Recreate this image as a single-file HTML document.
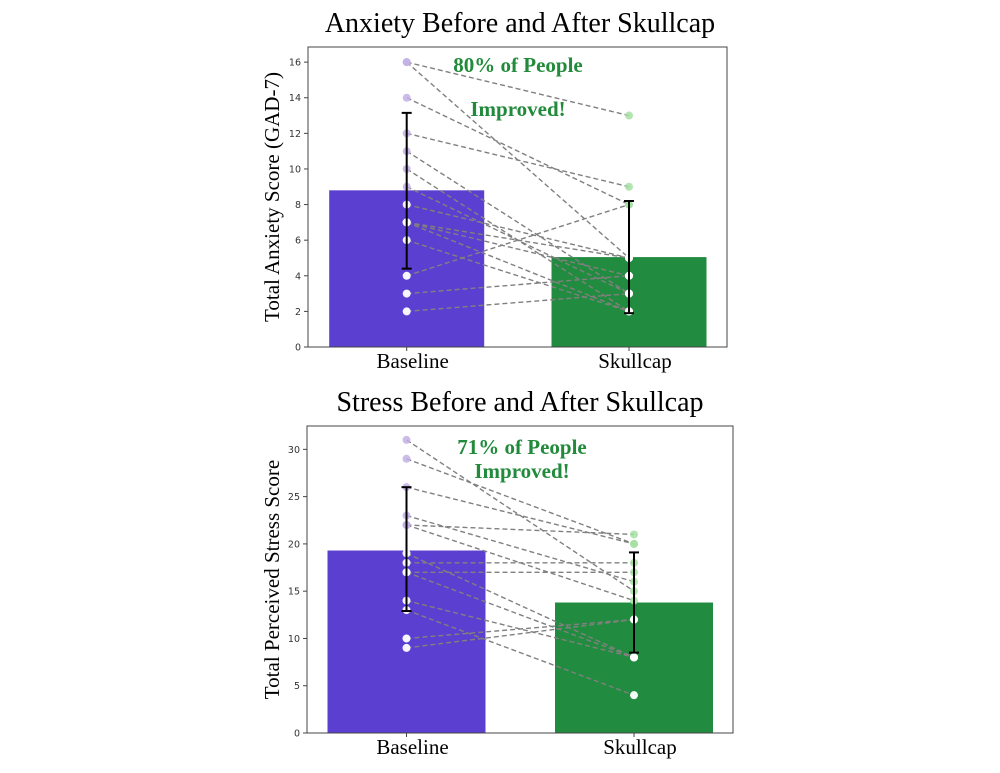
<!DOCTYPE html>
<html><head><meta charset="utf-8"><style>
html,body{margin:0;padding:0;background:#fff;width:1000px;height:773px;overflow:hidden}
svg{display:block}
</style></head><body>
<svg id="c" width="1000" height="773" xmlns="http://www.w3.org/2000/svg"></svg>
<script>
const categories = ["Baseline", "Skullcap"];
// Anxiety chart data
const anxietyMeans = [8.8, 5.05];
const anxietyErrLow = [4.4, 1.9];
const anxietyErrHigh = [13.15, 8.2];
const anxietyBefore = [16, 16, 14, 12, 11, 10, 9, 8, 7, 7, 7, 6, 4, 3, 2];
const anxietyAfter  = [13, 5, 8, 9, 3, 2, 3, 5, 5, 4, 2, 2, 8, 4, 3];
const anxietyTicks = [0, 2, 4, 6, 8, 10, 12, 14, 16];
// Stress chart data
const stressMeans = [19.3, 13.8];
const stressErrLow = [12.9, 8.5];
const stressErrHigh = [26, 19.1];
const stressBefore = [31, 29, 26, 23, 22, 22, 19, 18, 17, 17, 14, 13, 10, 9];
const stressAfter  = [15, 20, 20, 16, 21, 14, 8, 18, 17, 8, 8, 4, 12, 12];
const stressTicks = [0, 5, 10, 15, 20, 25, 30];

const NS = "http://www.w3.org/2000/svg";
const svg = document.getElementById("c");
function mk(tag, attrs, parent, text) {
  const e = document.createElementNS(NS, tag);
  for (const k in attrs) e.setAttribute(k, attrs[k]);
  if (text !== undefined) e.textContent = text;
  (parent || svg).appendChild(e);
  return e;
}

function chart(cfg) {
  const g = mk("g", {});
  
  
  const y = v => cfg.bottom - (v - 0) / cfg.ymax * (cfg.bottom - cfg.top);
  const xc = cfg.xcenters;
  const t = mk("text", {x: cfg.titleX, y: cfg.titleY, "text-anchor": "middle", "font-family": "'Liberation Serif', serif", "font-size": "28", fill: "#000"}, g, cfg.title);
  
  
  const colors = ["#5b3fd1", "#218c3f"];
  cfg.means.forEach((m, i) => {
    const b = mk("rect", {x: xc[i] - cfg.barW / 2, y: y(m), width: cfg.barW, height: cfg.bottom - y(m), fill: colors[i]}, g);
    
    
  });
  cfg.before.forEach((v, i) => {
    const l = mk("line", {x1: xc[0], y1: y(v), x2: xc[1], y2: y(cfg.after[i]), stroke: "#808080", "stroke-width": "1.4", "stroke-dasharray": "5,3"}, g);
    
    
  });
  const pt = (x, v, mean, outCol) => {
    const c = mk("circle", {cx: x, cy: y(v), r: 4, fill: v > mean ? outCol : "#ffffff", "fill-opacity": v > mean ? 0.85 : 0.95}, g);
    
    
  };
  cfg.before.forEach(v => pt(xc[0], v, cfg.means[0], "#c3b0e6"));
  cfg.after.forEach(v => pt(xc[1], v, cfg.means[1], "#a6e0a2"));
  cfg.means.forEach((m, i) => {
    const e = mk("g", {stroke: "#000", "stroke-width": "2"}, g);
    
    
    mk("line", {x1: xc[i], x2: xc[i], y1: y(cfg.lo[i]), y2: y(cfg.hi[i])}, e);
    mk("line", {x1: xc[i] - 5, x2: xc[i] + 5, y1: y(cfg.lo[i]), y2: y(cfg.lo[i])}, e);
    mk("line", {x1: xc[i] - 5, x2: xc[i] + 5, y1: y(cfg.hi[i]), y2: y(cfg.hi[i])}, e);
  });
  const f = mk("rect", {x: cfg.left, y: cfg.top, width: cfg.right - cfg.left, height: cfg.bottom - cfg.top, fill: "none", stroke: "#444", "stroke-width": "1"}, g);
  
  
  cfg.ticks.forEach(v => {
    mk("line", {x1: cfg.left - 4, x2: cfg.left, y1: y(v), y2: y(v), stroke: "#444"}, g);
    const tl = mk("text", {x: cfg.left - 7, y: y(v) + 3.5, "text-anchor": "end", "font-family": "'DejaVu Sans', sans-serif", "font-size": "9.5", fill: "#333"}, g, String(v));
    
    
  });
  categories.forEach((c, i) => {
    mk("line", {x1: xc[i], x2: xc[i], y1: cfg.bottom, y2: cfg.bottom + 4, stroke: "#444"}, g);
    const xl = mk("text", {x: xc[i] + 6, y: cfg.bottom + 21, "text-anchor": "middle", "font-family": "'Liberation Serif', serif", "font-size": "21", fill: "#000"}, g, c);
    
    
  });
  const cy = (cfg.top + cfg.bottom) / 2;
  const yl = mk("text", {x: 0, y: 0, transform: `translate(${cfg.ylabX},${cy}) rotate(-90)`, "text-anchor": "middle", "font-family": "'Liberation Serif', serif", "font-size": "21", fill: "#000"}, g, cfg.ylabel);
  
  
  cfg.note.forEach((s, i) => {
    const a = mk("text", {x: cfg.noteX, y: cfg.noteY[i], "text-anchor": "middle", "font-family": "'Liberation Serif', serif", "font-size": "21", "font-weight": "bold", fill: "#228b3b"}, g, s);
    
    
  });
}

chart({name: "anxiety-chart", title: "Anxiety Before and After Skullcap", titleX: 520, titleY: 32,
  left: 308, right: 727, top: 47, bottom: 347, ymax: 16.85, xcenters: [406.7, 629], barW: 155,
  means: anxietyMeans, lo: anxietyErrLow, hi: anxietyErrHigh, before: anxietyBefore, after: anxietyAfter,
  ticks: anxietyTicks, ylabel: "Total Anxiety Score (GAD-7)", ylabX: 279,
  note: ["80% of People", "Improved!"], noteX: 518, noteY: [72, 116]});

chart({name: "stress-chart", title: "Stress Before and After Skullcap", titleX: 520, titleY: 411,
  left: 307, right: 733, top: 426, bottom: 733, ymax: 32.47, xcenters: [406.5, 634], barW: 158,
  means: stressMeans, lo: stressErrLow, hi: stressErrHigh, before: stressBefore, after: stressAfter,
  ticks: stressTicks, ylabel: "Total Perceived Stress Score", ylabX: 279,
  note: ["71% of People", "Improved!"], noteX: 522, noteY: [454, 478]});
</script>
</body></html>
